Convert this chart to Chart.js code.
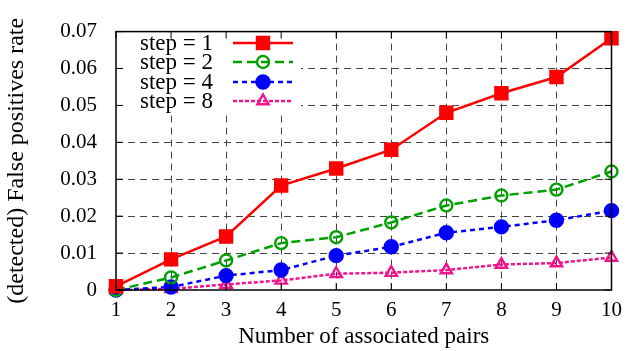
<!DOCTYPE html>
<html>
<head>
<meta charset="utf-8">
<script src="https://cdn.jsdelivr.net/npm/chart.js@4/dist/chart.umd.min.js"></script>
<style>
  html, body { margin: 0; padding: 0; background: #fff; }
  #wrap { width: 630px; height: 351px; }
</style>
</head>
<body>
<div id="wrap"><canvas id="fpChart" width="630" height="351"></canvas></div>
<script>
const pairs = [1, 2, 3, 4, 5, 6, 7, 8, 9, 10];
const step1 = [0.0010, 0.0083, 0.0145, 0.0283, 0.0329, 0.0380, 0.0480, 0.0533, 0.0577, 0.0682];
const step2 = [0.0000, 0.0034, 0.0080, 0.0127, 0.0143, 0.0183, 0.0229, 0.0256, 0.0272, 0.0321];
const step4 = [0.0000, 0.0008, 0.0039, 0.0054, 0.0093, 0.0117, 0.0155, 0.0171, 0.0189, 0.0215];
const step8 = [0.0000, 0.0003, 0.0015, 0.0026, 0.0044, 0.0047, 0.0054, 0.0069, 0.0073, 0.0088];
const yTicks = [0, 0.01, 0.02, 0.03, 0.04, 0.05, 0.06, 0.07];

const FONT = "'Liberation Serif', 'Times New Roman', serif";

function pts(vals) {
  return vals.map((v, i) => ({ x: pairs[i], y: v }));
}

const series = [
  { label: 'step = 1', data: pts(step1), color: '#ff0000', dash: [], shape: 'rect', r: 8.5, fill: true },
  { label: 'step = 2', data: pts(step2), color: '#00a000', dash: [9, 5], shape: 'circle', r: 6, fill: false },
  { label: 'step = 4', data: pts(step4), color: '#0000ff', dash: [5, 4], shape: 'circle', r: 6.5, fill: true },
  { label: 'step = 8', data: pts(step8), color: '#f0148c', dash: [4, 2], shape: 'triangle', r: 6.5, fill: false }
];

// frame, inward tick marks and the gnuplot-style key
const framePlugin = {
  id: 'frame',
  afterDatasetsDraw(chart) {
    const ctx = chart.ctx;
    const a = chart.chartArea;
    const xs = chart.scales.x, ys = chart.scales.y;
    ctx.save();
    // key background
    ctx.fillStyle = '#fff';
    ctx.fillRect(a.left + 1, 28, 184, 83);
    // border
    ctx.strokeStyle = '#000';
    ctx.lineWidth = 1.5;
    ctx.setLineDash([]);
    ctx.strokeRect(a.left, a.top, a.right - a.left, a.bottom - a.top);
    // ticks
    ctx.lineWidth = 1;
    const tl = 7;
    pairs.forEach(p => {
      const x = xs.getPixelForValue(p);
      ctx.beginPath();
      ctx.moveTo(x, a.bottom); ctx.lineTo(x, a.bottom - tl);
      ctx.moveTo(x, a.top); ctx.lineTo(x, a.top + tl);
      ctx.stroke();
    });
    yTicks.forEach(v => {
      const y = ys.getPixelForValue(v);
      ctx.beginPath();
      ctx.moveTo(a.left, y); ctx.lineTo(a.left + tl, y);
      ctx.moveTo(a.right, y); ctx.lineTo(a.right - tl, y);
      ctx.stroke();
    });
    // key entries
    ctx.font = '23px ' + FONT;
    ctx.textAlign = 'right';
    ctx.textBaseline = 'middle';
    const rows = [43, 62, 82, 101];
    chart.data.datasets.forEach((ds, i) => {
      const y = rows[i];
      ctx.fillStyle = '#000';
      ctx.fillText(ds.label, 213, y + 1);
      ctx.strokeStyle = ds.borderColor;
      ctx.lineWidth = ds.borderWidth;
      ctx.setLineDash(ds.borderDash);
      ctx.beginPath();
      ctx.moveTo(233, y); ctx.lineTo(293, y);
      ctx.stroke();
      ctx.setLineDash([]);
      ctx.fillStyle = ds.pointBackgroundColor;
      ctx.strokeStyle = ds.pointBorderColor;
      ctx.lineWidth = ds.pointBorderWidth;
      Chart.helpers.drawPoint(ctx, {
        pointStyle: ds.pointStyle,
        radius: ds.pointRadius,
        rotation: 0,
        borderWidth: ds.pointBorderWidth
      }, 263, y);
    });
    ctx.restore();
  }
};

new Chart(document.getElementById('fpChart'), {
  type: 'line',
  data: {
    datasets: series.map(s => ({
      label: s.label,
      data: s.data,
      borderColor: s.color,
      borderWidth: 2.5,
      borderDash: s.dash,
      pointStyle: s.shape,
      pointRadius: s.r,
      pointHoverRadius: s.r,
      pointBorderWidth: 2.4,
      pointBorderColor: s.color,
      pointBackgroundColor: s.fill ? s.color : 'rgba(0,0,0,0)',
      tension: 0,
      clip: false
    }))
  },
  options: {
    responsive: false,
    animation: false,
    events: [],
    layout: { padding: { top: 20, right: 10, left: 0, bottom: 0 } },
    plugins: {
      legend: { display: false },
      tooltip: { enabled: false }
    },
    scales: {
      x: {
        type: 'linear',
        min: 1,
        max: 10,
        afterFit: s => { s.height = 61; },
        afterBuildTicks: s => { s.ticks = pairs.map(v => ({ value: v })); },
        border: { display: false, dash: [7, 5] },
        grid: {
          drawTicks: false,
          color: ctx => (ctx.tick.value === 1 || ctx.tick.value === 10) ? 'rgba(0,0,0,0)' : '#444',
          lineWidth: 1
        },
        ticks: {
          padding: 8,
          color: '#000',
          font: { family: FONT, size: 21 },
          maxRotation: 0,
          callback: v => String(v)
        },
        title: {
          display: true,
          text: 'Number of associated pairs',
          color: '#000',
          font: { family: FONT, size: 23 },
          padding: { top: 0, bottom: 0 }
        }
      },
      y: {
        type: 'linear',
        min: 0,
        max: 0.07,
        afterFit: s => { s.width = 116; },
        afterBuildTicks: s => { s.ticks = yTicks.map(v => ({ value: v })); },
        border: { display: false, dash: [7, 5] },
        grid: {
          drawTicks: false,
          color: ctx => (ctx.tick.value === 0 || ctx.tick.value === 0.07) ? 'rgba(0,0,0,0)' : '#444',
          lineWidth: 1
        },
        ticks: {
          padding: 19,
          color: '#000',
          font: { family: FONT, size: 21 },
          callback: v => v === 0 ? '0' : v.toFixed(2)
        },
        title: {
          display: true,
          text: '(detected) False positives rate',
          color: '#000',
          font: { family: FONT, size: 24 },
          padding: { top: 2, bottom: 2 }
        }
      }
    }
  },
  plugins: [framePlugin]
});
</script>
</body>
</html>
